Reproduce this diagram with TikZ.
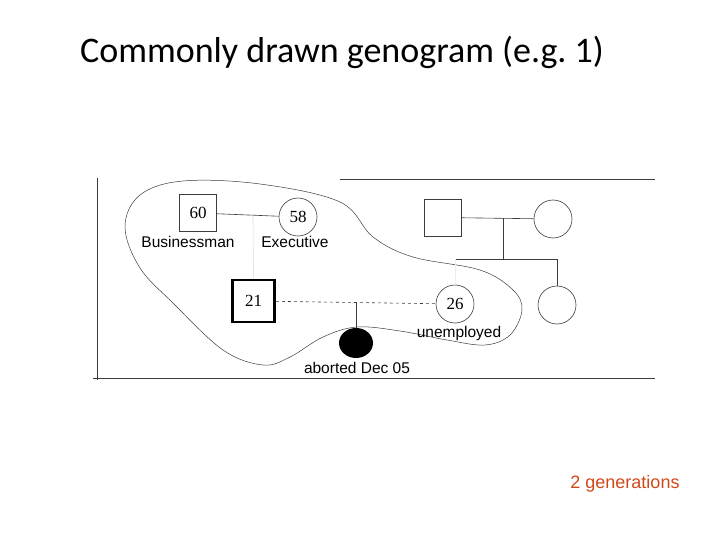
\documentclass[tikz,border=0pt]{standalone}
\usepackage{fontspec}
\setmainfont{Liberation Serif}
\newfontfamily\labelfont{Liberation Sans}
\newfontfamily\titlefont{Carlito}
\usetikzlibrary{positioning}
\usetikzlibrary{shapes.geometric}
\definecolor{genred}{RGB}{208,72,24}
\definecolor{inkgray}{RGB}{60,60,60}

\tikzset{
    male/.style={draw=inkgray, minimum size=37pt, inner sep=0pt, line width=0.6pt, font=\fontsize{17}{17}\selectfont},
    female/.style={draw=inkgray, circle, minimum size=38pt, inner sep=0pt, line width=0.6pt, font=\fontsize{17}{17}\selectfont},
    caption/.style={font=\labelfont\fontsize{15.5}{16}\selectfont, inner sep=1pt},
    kin/.style={draw=inkgray, line width=0.6pt},
}

\begin{document}
\begin{tikzpicture}[x=1pt, y=-1pt]
    \useasboundingbox (0, 0) rectangle (720, 540);

    \node[font=\titlefont\fontsize{36}{36}\selectfont] (title) at (342, 52) {Commonly drawn genogram (e.g.\ 1)};

    % page frame of the scan
    \draw[inkgray, line width=0.6pt] (97, 178) -- (97, 380);
    \draw[inkgray, line width=0.6pt] (340, 179) -- (655, 179);
    \draw[inkgray, line width=0.8pt] (93, 378) -- (655, 378);

    % household boundary
    \draw[inkgray, line width=0.5pt] plot[smooth cycle, tension=0.6] coordinates {
        (183, 181) (260, 184) (340, 202) (373, 237) (413, 257) (480, 270)
        (513, 290) (522, 310) (510, 335) (485, 345) (447, 340) (400, 331)
        (357, 327) (323, 337) (290, 357) (263, 365) (223, 350) (173, 303)
        (140, 268) (125, 227) (140, 195)};

    % first generation, left couple
    \node[male] (dad) at (198, 213) {60};
    \node[female] (mum) at (298, 217) {58};
    \node[caption] (dadjob) at (188, 242) {Businessman};
    \node[caption] (mumjob) at (295, 242) {Executive};
    \coordinate (wed) at (253, 214);
    \draw[kin] (dad) -- (mum);

    % client and partner
    \node[male, line width=2.6pt, draw=black, minimum size=42pt] (client) at (253.5, 301) {21};
    \node[female] (partner) at (455, 304) {26};
    \node[caption] (partnerjob) at (459, 333) {unemployed};
    \draw[kin, gray!30] (wed) -- (client);
    \draw[kin, dashed] (client) -- (partner);

    % pregnancy
    \node[ellipse, fill=black, minimum width=34pt, minimum height=30pt, inner sep=0pt] (baby) at (356, 343) {};
    \node[caption] (babynote) at (357, 368) {aborted Dec 05};
    \coordinate (link) at (356, 302);
    \draw[kin] (link) -- (baby);

    % first generation, right couple
    \node[male] (dad2) at (442.5, 217.5) {};
    \node[female] (mum2) at (553, 219) {};
    \coordinate (wed2) at (503, 218);
    \coordinate (sibs) at (503, 259);
    \coordinate (sibl) at (455, 259);
    \coordinate (sibr) at (557, 259);
    \node[female] (sister) at (557, 305) {};
    \draw[kin] (dad2) -- (mum2);
    \draw[kin] (wed2) -- (sibs);
    \draw[kin] (sibl) -- (sibr);
    \draw[kin] (sibr) -- (sister);
    \draw[kin, gray!15] (sibl) -- (partner);

    \node[font=\labelfont\fontsize{18}{18}\selectfont, text=genred] (gens) at (625, 484) {2 generations};
\end{tikzpicture}
\end{document}
